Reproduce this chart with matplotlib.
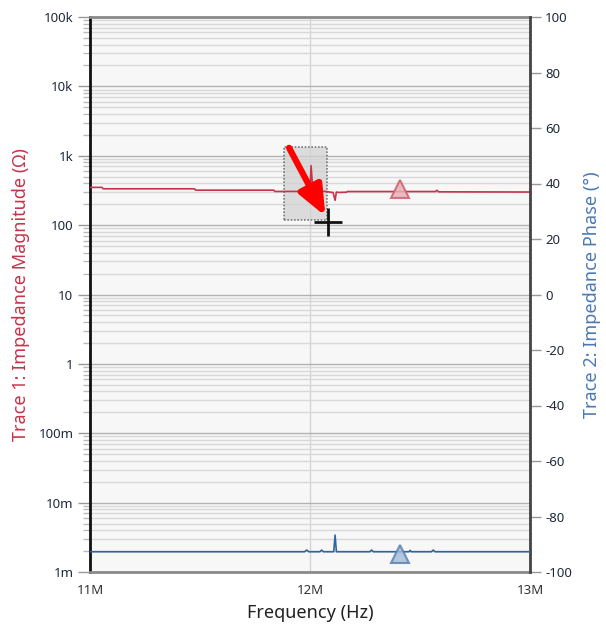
import numpy as np
import matplotlib
matplotlib.use("Agg")
import matplotlib.pyplot as plt
from matplotlib.ticker import FixedLocator, NullFormatter
from matplotlib.patches import Rectangle

plt.rcParams['font.family'] = ['Noto Sans', 'DejaVu Sans']
plt.rcParams['axes.unicode_minus'] = False

# ---- data (frequency in MHz) ----
mag_freq = [11.00, 11.055, 11.06, 11.475, 11.48, 11.835, 11.84, 11.975, 11.99,
            12.000, 12.005, 12.012, 12.02, 12.07, 12.105, 12.114, 12.12, 12.13,
            12.165, 12.17, 12.40, 12.57, 12.577, 12.584, 13.00]
mag_vals = [350, 350, 334, 334, 319, 319, 306, 306, 300,
            330, 720, 340, 310, 306, 295, 228, 300, 296,
            298, 305, 305, 305, 318, 302, 300]

ph_freq = [11.00, 11.975, 11.985, 11.995, 12.045, 12.053, 12.061, 12.100, 12.108,
           12.114, 12.120, 12.128, 12.272, 12.280, 12.288, 12.450, 12.455, 12.460,
           12.552, 12.560, 12.568, 13.00]
ph_vals = [-92.7, -92.7, -92.1, -92.7, -92.7, -92.1, -92.7, -92.7, -92.7,
           -86.7, -92.7, -92.7, -92.7, -92.1, -92.7, -92.7, -92.2, -92.7,
           -92.7, -92.1, -92.7, -92.7]

marker_freq = [12.41]
marker_mag = [330]
marker_phase = [-93.5]

sel_box_freq = [11.882, 12.077]
sel_box_mag = [118, 1330]
arrow_freq = [11.905, 12.070]
arrow_mag = [1300, 135]
cursor_freq = [12.080]
cursor_mag = [112]

mag_ticks = [1e-3, 1e-2, 1e-1, 1, 10, 100, 1e3, 1e4, 1e5]
mag_labels = ["1m", "10m", "100m", "1", "10", "100", "1k", "10k", "100k"]
ph_ticks = [-100, -80, -60, -40, -20, 0, 20, 40, 60, 80, 100]
freq_ticks = [11, 12, 13]
freq_labels = ["11M", "12M", "13M"]

RED = "#c8324a"
BLUE = "#2f64a4"
TICKC = "#1f2a3a"

fig = plt.figure(figsize=(6.06, 6.28), dpi=100)
ax = fig.add_axes([90/606, 1-572/628, 440/606, 555/628])
ax.set_facecolor("#f7f7f7")
ax.set_yscale("log")
ax.set_ylim(1e-3, 1e5)
ax.set_xlim(11, 13)

ax.yaxis.set_major_locator(FixedLocator(mag_ticks))
ax.set_yticklabels(mag_labels)
minors = [m * 10.0**e for e in range(-3, 5) for m in range(2, 10)]
ax.yaxis.set_minor_locator(FixedLocator(minors))
ax.yaxis.set_minor_formatter(NullFormatter())
ax.set_xticks(freq_ticks)
ax.set_xticklabels(freq_labels)

ax.grid(True, which="major", axis="y", color="#b2b2b2", lw=1.0)
ax.grid(True, which="minor", axis="y", color="#d8d8d8", lw=1.0)
ax.grid(True, which="major", axis="x", color="#d4d4d4", lw=1.0)
ax.set_axisbelow(True)

ax.tick_params(axis="y", which="major", length=9, width=1, color="#999999",
               labelsize=9.5, labelcolor=TICKC, pad=3)
ax.tick_params(axis="y", which="minor", length=5, width=1, color="#bbbbbb")
ax.tick_params(axis="x", which="major", length=0, labelsize=9.5, labelcolor="#333333", pad=9)

ax.spines["left"].set_color("#111111")
ax.spines["left"].set_linewidth(2)
ax.spines["top"].set_color("#8a8a8a")
ax.spines["top"].set_linewidth(2)
ax.spines["bottom"].set_color("#8a8a8a")
ax.spines["bottom"].set_linewidth(2)
ax.spines["right"].set_visible(False)

# selection box
ax.add_patch(Rectangle((sel_box_freq[0], sel_box_mag[0]),
                       sel_box_freq[1]-sel_box_freq[0], sel_box_mag[1]-sel_box_mag[0],
                       facecolor="#d2d2d2", alpha=0.75, edgecolor="#555555",
                       linestyle=(0, (1, 1)), lw=1.2, zorder=2))

ax.plot(mag_freq, mag_vals, color=RED, lw=1.2, zorder=3)
ax.plot(marker_freq, marker_mag, marker="^", ms=13, mfc="#eab0b8", mec="#cc5f70",
        mew=1.5, alpha=0.85, zorder=4)

ax.annotate("", xy=(arrow_freq[1], arrow_mag[1]), xytext=(arrow_freq[0], arrow_mag[0]),
            arrowprops=dict(arrowstyle="-|>,head_length=1.0,head_width=0.42",
                            mutation_scale=18, color="#ff0000", lw=4.5,
                            shrinkA=0, shrinkB=0), zorder=5)
ax.plot(cursor_freq, cursor_mag, marker="+", ms=20, mew=2, color="#111111", zorder=6)

ax.set_ylabel("Trace 1: Impedance Magnitude (Ω)", color=RED, fontsize=13, labelpad=6)
ax.set_xlabel("Frequency (Hz)", color="#222222", fontsize=13, labelpad=5)

ax2 = ax.twinx()
ax2.set_ylim(-100, 100)
ax2.set_yticks(ph_ticks)
ax2.plot(ph_freq, ph_vals, color=BLUE, lw=1.2, zorder=3)
ax2.plot(marker_freq, marker_phase, marker="^", ms=13, mfc="#a6bedb", mec="#5a82b4",
         mew=1.5, alpha=0.85, zorder=4)
ax2.tick_params(axis="y", length=8, width=1, color="#999999", labelsize=9.5,
                labelcolor=TICKC, pad=3)
for s in ["left", "top", "bottom"]:
    ax2.spines[s].set_visible(False)
ax2.spines["right"].set_color("#444444")
ax2.spines["right"].set_linewidth(2)
ax2.set_ylabel("Trace 2: Impedance Phase (°)", color="#4a78b4", fontsize=13, labelpad=8)

fig.savefig("out.png", dpi=100)
